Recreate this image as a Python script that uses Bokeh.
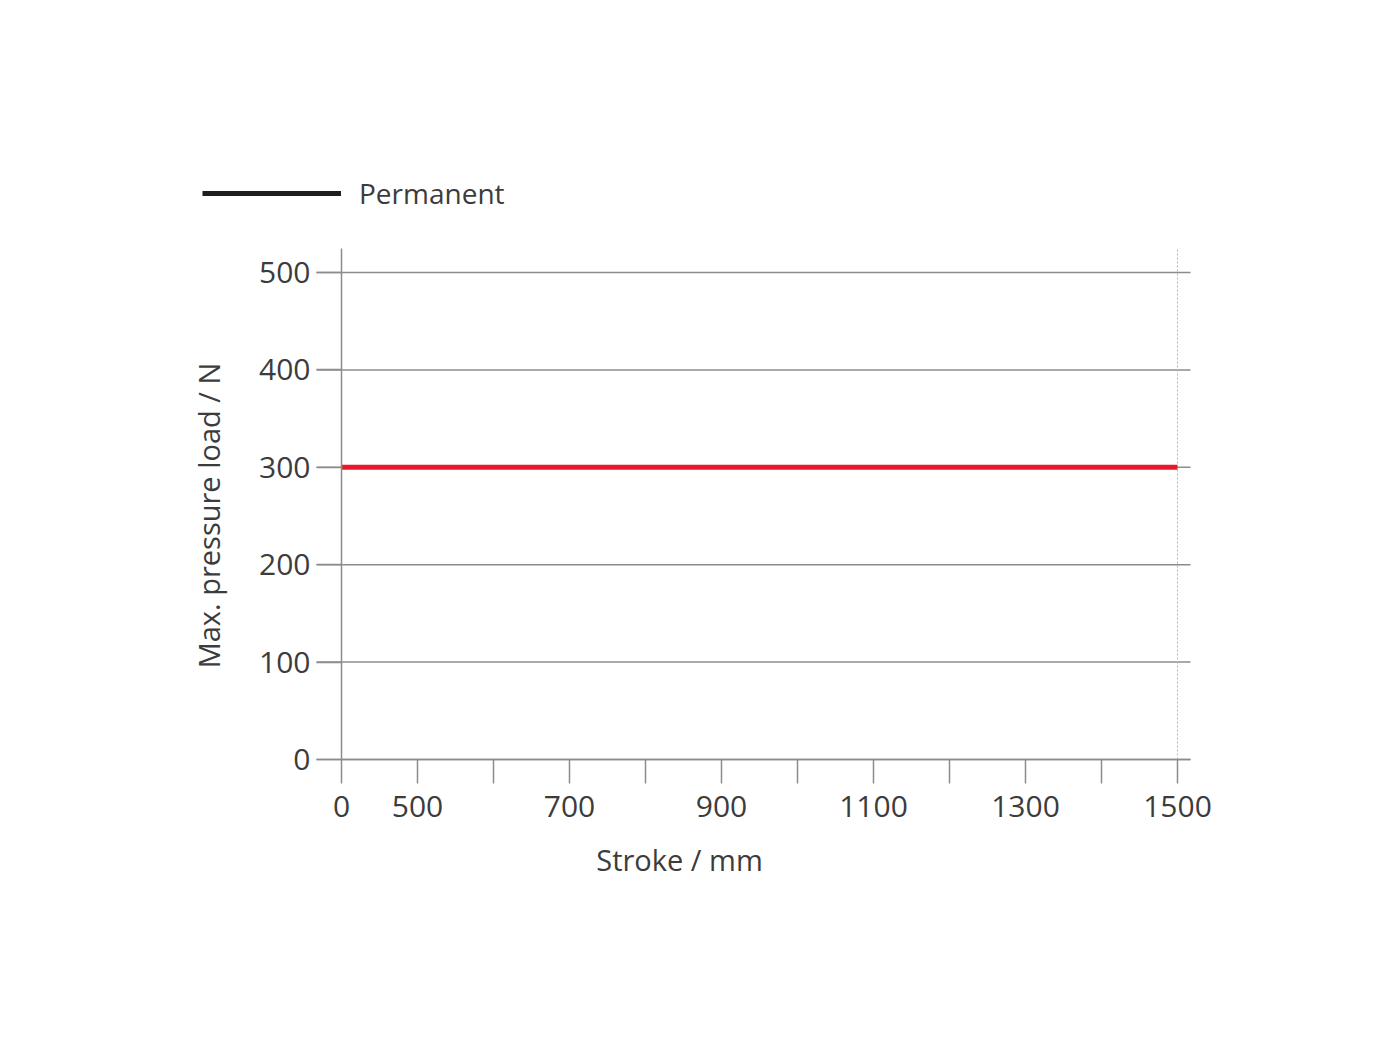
import math
from bokeh.plotting import figure
from bokeh.models import Range1d, FixedTicker, Legend, LegendItem, Label
from bokeh.embed import file_html
from bokeh.resources import INLINE

# ---- data ----
stroke_ticks = [0, 500, 600, 700, 800, 900, 1000, 1100, 1200, 1300, 1400, 1500]
labeled_ticks = [0, 500, 700, 900, 1100, 1300, 1500]
load_ticks = [0, 100, 200, 300, 400, 500]
stroke = [0, 1500]
load = [300, 300]
series_name = "Permanent"
x_title = "Stroke / mm"
y_title = "Max. pressure load / N"

# the stroke axis is drawn with evenly spaced tick slots
x_pos = [stroke_ticks.index(s) for s in stroke]
tick_pos = list(range(len(stroke_ticks)))
overrides = {i: (str(v) if v in labeled_ticks else "") for i, v in enumerate(stroke_ticks)}

FONT = "Open Sans"
TXT = "#3c3c3c"
GRAY = "#8c8c8c"

# ---- layout (pixels on the canvas) ----
W, H = 1384, 1034
PX0, PXU = 341.0, 76.0      # pixel of first slot, pixels per slot
PY0, PYU = 759.0, 0.974     # pixel of load 0, pixels per N
x_end = tick_pos[-1] + 13 / PXU          # axis/grid run slightly past 1500
y_top = load_ticks[-1] + 24 / PYU        # axis line runs slightly above 500
x_left_ext = -25 / PXU                   # tick extension left of the y axis

p = figure(width=W, height=H, output_backend="svg", toolbar_location=None,
           x_range=Range1d(-PX0 / PXU, (W - PX0) / PXU),
           y_range=Range1d(-(H - PY0) / PYU, PY0 / PYU),
           min_border=0)
p.outline_line_color = None
p.xgrid.visible = False
p.ygrid.visible = False

# horizontal grid lines
p.segment(x0=[x_left_ext] * len(load_ticks), y0=load_ticks,
          x1=[x_end] * len(load_ticks), y1=load_ticks,
          line_color=GRAY, line_width=1.5)

# dotted end line at the last stroke
p.segment(x0=[x_pos[-1]], y0=[0], x1=[x_pos[-1]], y1=[y_top],
          line_color="#b4b4b4", line_width=1, line_dash="2 2")

# x axis
xa = p.xaxis[0]
xa.fixed_location = 0
xa.bounds = (0, x_end)
xa.ticker = FixedTicker(ticks=tick_pos)
xa.major_label_overrides = overrides
xa.minor_tick_line_color = None
xa.major_tick_in = 0
xa.major_tick_out = 24
xa.major_tick_line_color = GRAY
xa.major_tick_line_width = 1.5
xa.axis_line_color = GRAY
xa.axis_line_width = 1.5
xa.major_label_standoff = 12
xa.major_label_text_font = FONT
xa.major_label_text_font_size = "30px"
xa.major_label_text_color = TXT

# y axis
ya = p.yaxis[0]
ya.fixed_location = 0
ya.bounds = (0, y_top)
ya.ticker = FixedTicker(ticks=load_ticks)
ya.minor_tick_line_color = None
ya.major_tick_in = 0
ya.major_tick_out = 25
ya.major_tick_line_color = GRAY
ya.major_tick_line_width = 1.5
ya.axis_line_color = GRAY
ya.axis_line_width = 1.5
ya.major_label_standoff = 6
ya.major_label_text_font = FONT
ya.major_label_text_font_size = "30px"
ya.major_label_text_color = TXT

# data line
p.line(x_pos, load, line_color="#e8192c", line_width=5)

# legend key: black line (hidden renderer, shown only in the legend, as in the original)
key = p.line(x_pos, load, line_color="#1e1e1e", line_width=5)
key.visible = False
legend = Legend(items=[LegendItem(label=series_name, renderers=[key])],
                location=(202, H - 212), glyph_width=139, glyph_height=24,
                label_height=34, label_standoff=18, padding=0, margin=0, spacing=0,
                border_line_color=None, background_fill_alpha=0,
                inactive_fill_alpha=0,
                label_text_font=FONT, label_text_font_size="28px",
                label_text_color=TXT)
p.add_layout(legend, "center")

# axis titles
p.add_layout(Label(x=679, y=H - 859, x_units="screen", y_units="screen", text=x_title,
                   text_align="center", text_baseline="middle",
                   text_font=FONT, text_font_size="29px", text_color=TXT))
p.add_layout(Label(x=208, y=H - 515, x_units="screen", y_units="screen", text=y_title,
                   angle=math.pi / 2, text_align="center", text_baseline="middle",
                   text_font=FONT, text_font_size="29px", text_color=TXT))

open("out.html", "w").write(file_html(p, INLINE))
